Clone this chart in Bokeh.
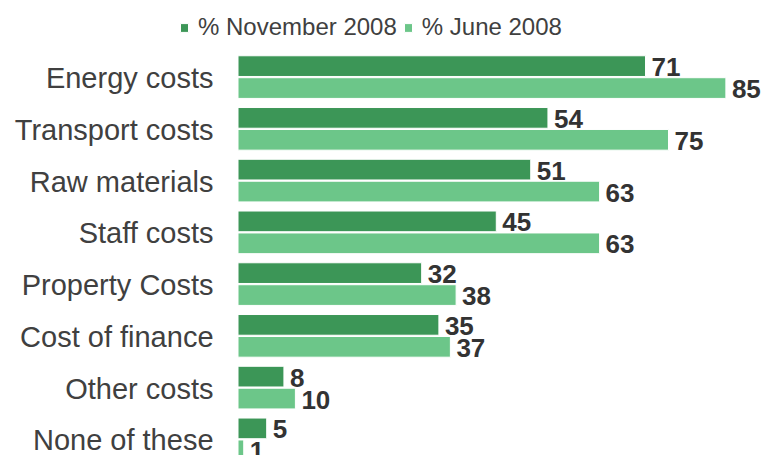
from bokeh.plotting import figure
from bokeh.models import ColumnDataSource, Range1d, Legend, LegendItem
from bokeh.core.properties import value
from bokeh.embed import file_html
from bokeh.resources import INLINE

categories = ["Energy costs", "Transport costs", "Raw materials", "Staff costs",
              "Property Costs", "Cost of finance", "Other costs", "None of these"]
nov_2008 = [71, 54, 51, 45, 32, 35, 8, 5]
jun_2008 = [85, 75, 63, 63, 38, 37, 10, 1]
series_names = ["% November 2008", "% June 2008"]

DARK = "#3C9657"
LIGHT = "#6CC689"
FONT = "Liberation Sans"

pos = list(range(len(categories)))
src = ColumnDataSource(dict(
    y=pos,
    cat=categories,
    zero=[0] * len(pos),
    y_nov=[i - 0.212 for i in pos],
    y_jun=[i + 0.212 for i in pos],
    nov=nov_2008,
    jun=jun_2008,
    nov_lbl=[str(v) for v in nov_2008],
    jun_lbl=[str(v) for v in jun_2008],
))

p = figure(width=781, height=455, output_backend="svg", toolbar_location=None,
           x_range=Range1d(-41.38, 94.69), y_range=Range1d(7.312, -1.480),
           x_axis_location=None, y_axis_location=None,
           min_border_left=0, min_border_right=0,
           min_border_top=0, min_border_bottom=0)
p.outline_line_color = None
p.grid.visible = False
p.background_fill_color = "white"

r1 = p.hbar(y="y_nov", left=0, right="nov", height=0.4, source=src,
            fill_color=DARK, line_color="white", line_width=1)
r2 = p.hbar(y="y_jun", left=0, right="jun", height=0.4, source=src,
            fill_color=LIGHT, line_color="white", line_width=1)

for xcol, ycol, tcol in (("nov", "y_nov", "nov_lbl"), ("jun", "y_jun", "jun_lbl")):
    p.text(x=xcol, y=ycol, text=tcol, source=src, x_offset=6, y_offset=1,
           text_baseline="middle", text_align="left",
           text_font=value(FONT), text_font_style="bold",
           text_font_size="26px", text_color="#333333")

# category labels
p.text(x="zero", y="y", text="cat", source=src, x_offset=-24.5, y_offset=1,
       text_baseline="middle", text_align="right",
       text_font=value(FONT), text_font_size="29px", text_color="#404040")

legend = Legend(items=[LegendItem(label=series_names[0], renderers=[r1]),
                       LegendItem(label=series_names[1], renderers=[r2])],
                orientation="horizontal", location=(179, 414),
                glyph_width=10, glyph_height=11, label_standoff=9, spacing=6,
                padding=0, margin=0, border_line_color=None,
                background_fill_alpha=0, label_text_font=FONT,
                label_text_font_size="24px", label_text_color="#404040")
p.add_layout(legend)

open("out.html", "w").write(file_html(p, INLINE))
